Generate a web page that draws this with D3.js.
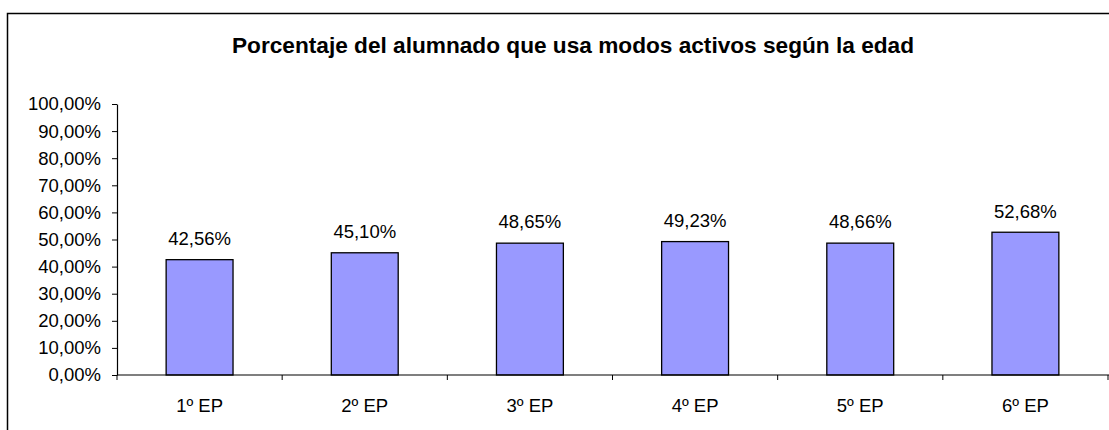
<!DOCTYPE html>
<html>
<head>
<meta charset="utf-8">
<script src="https://cdn.jsdelivr.net/npm/d3@7"></script>
<style>
  body { margin: 0; background: #fff; }
  svg text { font-family: "Liberation Sans", Arial, sans-serif; fill: #000; }
</style>
</head>
<body>
<svg id="chart"></svg>
<script>
var width = 1109;
var height = 430;

// data
var categories = ["1º EP", "2º EP", "3º EP", "4º EP", "5º EP", "6º EP"];
var values = [0.4256, 0.4510, 0.4865, 0.4923, 0.4866, 0.5268];
var yTicks = [0, 0.1, 0.2, 0.3, 0.4, 0.5, 0.6, 0.7, 0.8, 0.9, 1];
var title = "Porcentaje del alumnado que usa modos activos según la edad";

// plot area (don't call it "top", that's window.top)
var plotLeft = 117, plotRight = 1108, plotTop = 104, plotBottom = 375;

// spanish style numbers: 42,56%
var esLocale = d3.formatLocale({ decimal: ",", thousands: ".", grouping: [3], currency: ["", " €"] });
var pct = esLocale.format(".2%");

var svg = d3.select("#chart")
    .attr("width", width)
    .attr("height", height);

// outer frame (runs off right and bottom edges)
svg.append("rect")
    .attr("x", 7.5)
    .attr("y", 13.5)
    .attr("width", 1200)
    .attr("height", 500)
    .attr("fill", "none")
    .attr("stroke", "#000")
    .attr("stroke-width", 1.5);

var xScale = d3.scaleBand()
    .domain(categories)
    .range([plotLeft, plotRight])
    .paddingInner(0.595)
    .paddingOuter(0.2975);

var yScale = d3.scaleLinear()
    .domain([0, 1])
    .range([plotBottom, plotTop]);

// title - the original uses a slightly condensed bold face
svg.append("text")
    .attr("x", 573)
    .attr("y", 53)
    .attr("text-anchor", "middle")
    .attr("textLength", 682)
    .attr("lengthAdjust", "spacingAndGlyphs")
    .style("font-weight", "bold")
    .style("font-size", "22.5px")
    .text(title);

// bars
svg.selectAll("rect.bar")
    .data(values)
    .enter()
    .append("rect")
        .attr("class", "bar")
        .attr("x", (d, i) => xScale(categories[i]))
        .attr("y", d => yScale(d))
        .attr("width", xScale.bandwidth())
        .attr("height", d => yScale(0) - yScale(d))
        .attr("fill", "#9999ff")
        .attr("stroke", "#000")
        .attr("stroke-width", 1.3);

// value labels
svg.selectAll("text.val")
    .data(values)
    .enter()
    .append("text")
        .attr("class", "val")
        .attr("x", (d, i) => xScale(categories[i]) + xScale.bandwidth() / 2)
        .attr("y", d => yScale(d) - 14.7)
        .attr("text-anchor", "middle")
        .style("font-size", "18.5px")
        .text(d => pct(d));

// y axis
var yAxis = d3.axisLeft(yScale)
    .tickValues(yTicks)
    .tickFormat(pct)
    .tickSize(5)
    .tickSizeOuter(0)
    .tickPadding(11);

var gy = svg.append("g")
    .attr("transform", `translate(${plotLeft},0)`)
    .call(yAxis);
gy.select(".domain").attr("stroke", "#000").attr("stroke-width", 1.2);
gy.selectAll(".tick line").attr("stroke", "#000");
gy.selectAll(".tick text")
    .attr("font-family", null)
    .attr("font-size", null)
    .style("font-size", "18.5px");

// x axis with ticks between categories
var boundaries = d3.range(categories.length + 1).map(i => plotLeft + i * xScale.step());

var gx = svg.append("g")
    .attr("transform", `translate(0,${plotBottom})`);
gx.append("line")
    .attr("x1", plotLeft)
    .attr("x2", width)
    .attr("stroke", "#000")
    .attr("stroke-width", 1.2);
gx.selectAll("line.tk")
    .data(boundaries)
    .enter()
    .append("line")
        .attr("class", "tk")
        .attr("x1", d => d)
        .attr("x2", d => d)
        .attr("y1", 0)
        .attr("y2", 5)
        .attr("stroke", "#000");
gx.selectAll("text")
    .data(categories)
    .enter()
    .append("text")
        .attr("x", d => xScale(d) + xScale.bandwidth() / 2)
        .attr("y", 36.7)
        .attr("text-anchor", "middle")
        .style("font-size", "18.5px")
        .text(d => d);
</script>
</body>
</html>
